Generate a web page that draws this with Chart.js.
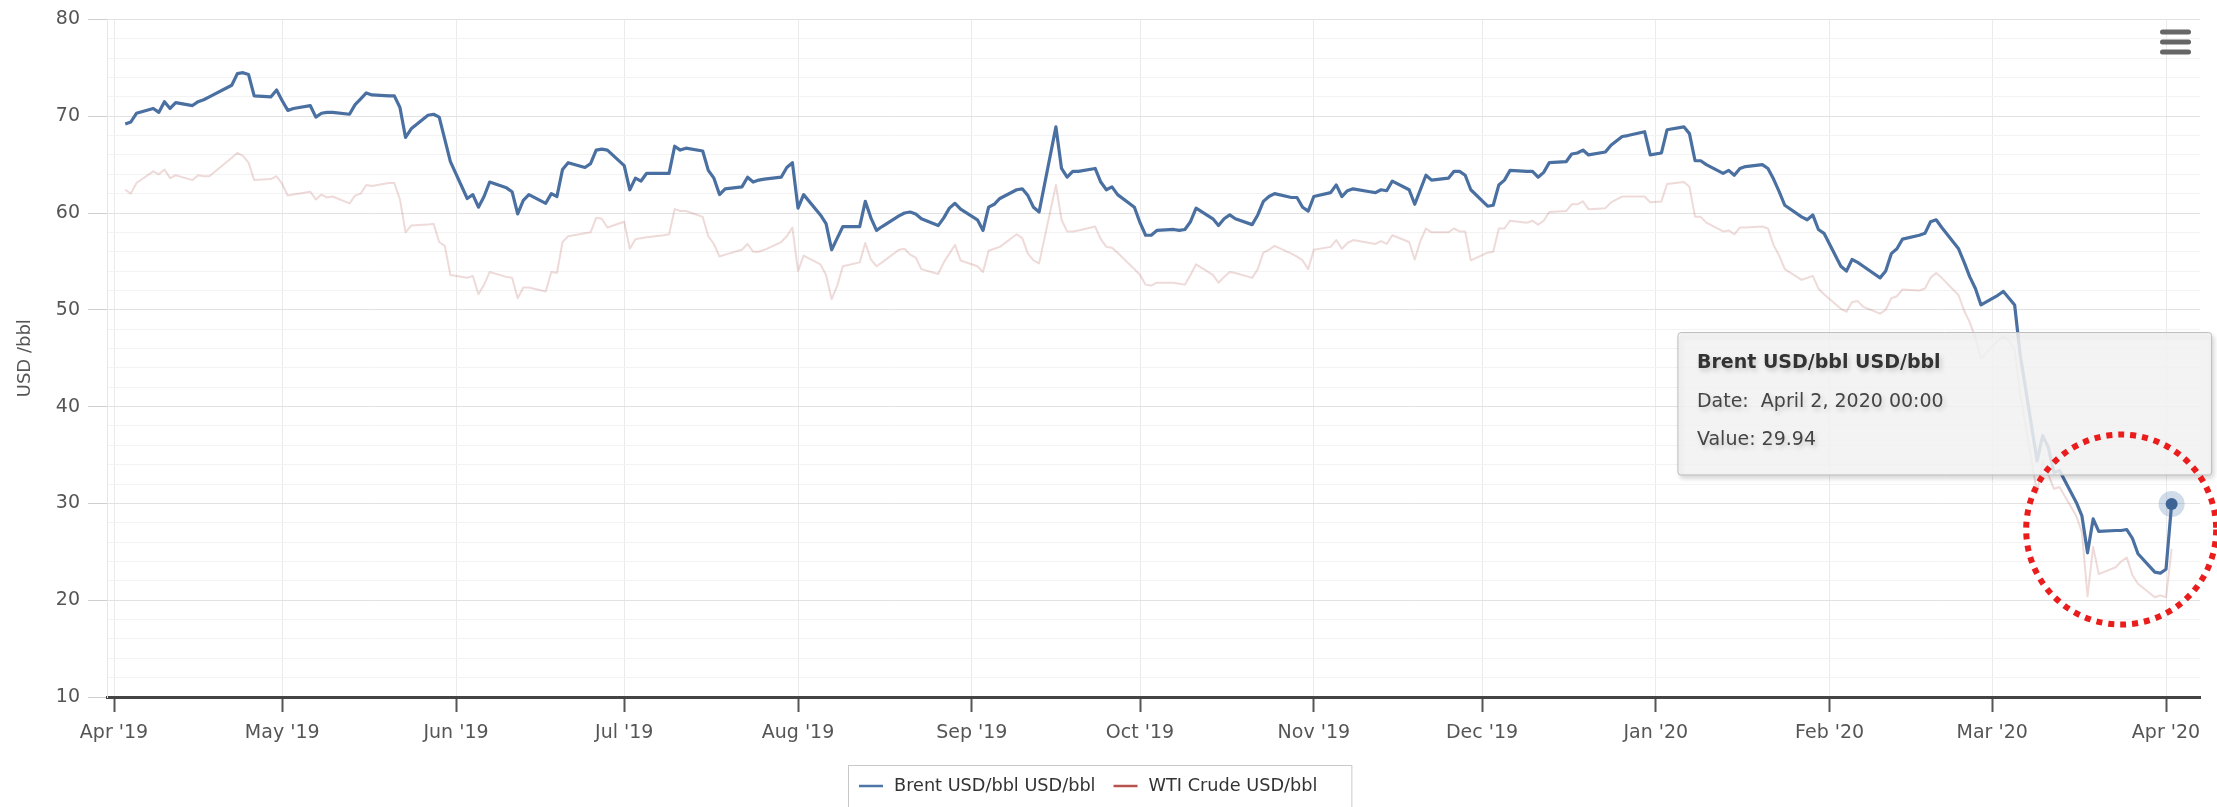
<!DOCTYPE html>
<html>
<head>
<meta charset="utf-8">
<title>Brent and WTI crude prices</title>
<script src="https://cdn.jsdelivr.net/npm/chart.js@4.4.1/dist/chart.umd.min.js"></script>
<style>
  html, body { margin: 0; padding: 0; background: #fff; overflow: hidden; }
  #wrap { width: 2217px; height: 807px; }
</style>
</head>
<body>
<div id="wrap"><canvas id="price-chart" width="2217" height="807"></canvas></div>
<script>
// Daily closes, April 2019 to April 2020
const tradeDates = [
  '2019-04-03','2019-04-04','2019-04-05','2019-04-08','2019-04-09','2019-04-10','2019-04-11','2019-04-12','2019-04-15','2019-04-16',
  '2019-04-17','2019-04-18','2019-04-22','2019-04-23','2019-04-24','2019-04-25','2019-04-26','2019-04-29','2019-04-30',
  '2019-05-01','2019-05-02','2019-05-03','2019-05-06','2019-05-07','2019-05-08','2019-05-09','2019-05-10','2019-05-13','2019-05-14',
  '2019-05-15','2019-05-16','2019-05-17','2019-05-20','2019-05-21','2019-05-22','2019-05-23','2019-05-24','2019-05-27','2019-05-28',
  '2019-05-29','2019-05-30','2019-05-31',
  '2019-06-03','2019-06-04','2019-06-05','2019-06-06','2019-06-07','2019-06-10','2019-06-11','2019-06-12','2019-06-13','2019-06-14',
  '2019-06-17','2019-06-18','2019-06-19','2019-06-20','2019-06-21','2019-06-24','2019-06-25','2019-06-26','2019-06-27','2019-06-28',
  '2019-07-01','2019-07-02','2019-07-03','2019-07-04','2019-07-05','2019-07-08','2019-07-09','2019-07-10','2019-07-11','2019-07-12',
  '2019-07-15','2019-07-16','2019-07-17','2019-07-18','2019-07-19','2019-07-22','2019-07-23','2019-07-24','2019-07-25','2019-07-26',
  '2019-07-29','2019-07-30','2019-07-31',
  '2019-08-01','2019-08-02','2019-08-05','2019-08-06','2019-08-07','2019-08-08','2019-08-09','2019-08-12','2019-08-13','2019-08-14',
  '2019-08-15','2019-08-16','2019-08-19','2019-08-20','2019-08-21','2019-08-22','2019-08-23','2019-08-26','2019-08-27','2019-08-28',
  '2019-08-29','2019-08-30',
  '2019-09-02','2019-09-03','2019-09-04','2019-09-05','2019-09-06','2019-09-09','2019-09-10','2019-09-11','2019-09-12','2019-09-13',
  '2019-09-16','2019-09-17','2019-09-18','2019-09-19','2019-09-20','2019-09-23','2019-09-24','2019-09-25','2019-09-26','2019-09-27',
  '2019-09-30',
  '2019-10-01','2019-10-02','2019-10-03','2019-10-04','2019-10-07','2019-10-08','2019-10-09','2019-10-10','2019-10-11','2019-10-14',
  '2019-10-15','2019-10-16','2019-10-17','2019-10-18','2019-10-21','2019-10-22','2019-10-23','2019-10-24','2019-10-25','2019-10-28',
  '2019-10-29','2019-10-30','2019-10-31',
  '2019-11-01','2019-11-04','2019-11-05','2019-11-06','2019-11-07','2019-11-08','2019-11-11','2019-11-12','2019-11-13','2019-11-14',
  '2019-11-15','2019-11-18','2019-11-19','2019-11-20','2019-11-21','2019-11-22','2019-11-25','2019-11-26','2019-11-27','2019-11-28',
  '2019-11-29',
  '2019-12-02','2019-12-03','2019-12-04','2019-12-05','2019-12-06','2019-12-09','2019-12-10','2019-12-11','2019-12-12','2019-12-13',
  '2019-12-16','2019-12-17','2019-12-18','2019-12-19','2019-12-20','2019-12-23','2019-12-24','2019-12-26','2019-12-27','2019-12-30',
  '2019-12-31',
  '2020-01-02','2020-01-03','2020-01-06','2020-01-07','2020-01-08','2020-01-09','2020-01-10','2020-01-13','2020-01-14','2020-01-15',
  '2020-01-16','2020-01-17','2020-01-20','2020-01-21','2020-01-22','2020-01-23','2020-01-24','2020-01-27','2020-01-28','2020-01-29',
  '2020-01-30','2020-01-31',
  '2020-02-03','2020-02-04','2020-02-05','2020-02-06','2020-02-07','2020-02-10','2020-02-11','2020-02-12','2020-02-13','2020-02-14',
  '2020-02-17','2020-02-18','2020-02-19','2020-02-20','2020-02-21','2020-02-24','2020-02-25','2020-02-26','2020-02-27','2020-02-28',
  '2020-03-02','2020-03-03','2020-03-04','2020-03-05','2020-03-06','2020-03-09','2020-03-10','2020-03-11','2020-03-12','2020-03-13',
  '2020-03-16','2020-03-17','2020-03-18','2020-03-19','2020-03-20','2020-03-23','2020-03-24','2020-03-25','2020-03-26','2020-03-27',
  '2020-03-30','2020-03-31',
  '2020-04-01','2020-04-02'
];

const brentUsd = [
  69.2,69.4,70.3,70.8,70.4,71.5,70.8,71.4,71.1,71.5,71.7,72.0,73.2,74.4,74.5,74.3,72.1,72.0,72.7,
  71.6,70.6,70.8,71.1,69.9,70.3,70.4,70.4,70.2,71.2,71.8,72.4,72.2,72.1,72.1,70.9,67.8,68.7,70.1,70.2,69.9,67.6,65.3,
  61.5,61.9,60.6,61.7,63.2,62.6,62.2,59.9,61.3,61.9,61.0,62.0,61.7,64.5,65.2,64.7,65.1,66.5,66.6,66.5,
  64.9,62.4,63.6,63.3,64.1,64.1,64.1,66.9,66.5,66.7,66.4,64.4,63.6,61.9,62.5,62.7,63.7,63.2,63.4,63.5,63.7,64.7,65.2,
  60.5,61.9,59.8,58.9,56.2,57.4,58.6,58.6,61.2,59.5,58.2,58.6,59.7,60.0,60.1,59.9,59.4,58.7,59.5,60.5,61.0,60.4,
  59.3,58.2,60.6,60.9,61.5,62.4,62.5,61.8,60.6,60.1,68.9,64.6,63.7,64.3,64.3,64.6,63.2,62.4,62.7,61.9,60.6,
  59.0,57.7,57.7,58.2,58.3,58.2,58.3,59.1,60.5,59.4,58.7,59.4,59.8,59.4,58.8,59.8,61.2,61.7,62.0,61.6,61.6,60.6,60.2,
  61.7,62.1,62.9,61.7,62.3,62.5,62.2,62.1,62.4,62.3,63.3,62.4,60.9,62.4,63.9,63.4,63.6,64.3,64.3,63.9,62.4,
  60.7,60.8,62.9,63.4,64.4,64.3,64.3,63.7,64.2,65.2,65.3,66.1,66.2,66.5,66.0,66.3,67.0,67.9,68.0,68.4,66.0,
  66.2,68.6,68.9,68.2,65.4,65.4,65.0,64.1,64.4,63.9,64.6,64.8,65.0,64.6,63.5,62.2,60.8,59.6,59.3,59.8,58.3,57.9,
  54.5,54.0,55.2,54.9,54.5,53.3,54.0,55.8,56.3,57.3,57.7,57.9,59.1,59.3,58.5,56.3,54.9,53.4,52.2,50.5,
  51.5,51.9,51.2,50.5,45.3,34.4,37.0,35.8,33.2,33.4,30.1,28.7,24.9,28.4,27.1,27.2,27.2,27.3,26.4,24.8,22.9,22.8,
  23.2,29.94
];

const wtiUsd = [
  62.4,62.0,63.1,64.3,64.0,64.5,63.6,63.9,63.4,63.9,63.8,63.8,65.7,66.2,65.9,65.2,63.4,63.5,63.8,
  63.0,61.8,61.9,62.2,61.4,61.9,61.6,61.7,61.0,61.8,62.0,62.9,62.8,63.1,63.1,61.4,58.0,58.7,58.8,58.9,57.0,56.6,53.6,
  53.3,53.5,51.6,52.6,53.9,53.4,53.3,51.2,52.3,52.3,51.9,53.9,53.8,57.0,57.6,57.9,58.0,59.5,59.4,58.5,
  59.1,56.3,57.3,57.4,57.5,57.7,57.8,60.4,60.2,60.2,59.6,57.6,56.8,55.5,55.7,56.2,56.8,56.0,56.0,56.2,57.0,57.6,58.5,
  54.0,55.6,54.7,53.6,51.1,52.5,54.5,54.9,56.9,55.2,54.5,54.9,56.2,56.3,55.7,55.4,54.2,53.7,54.9,55.8,56.7,55.1,
  54.5,53.9,56.1,56.3,56.5,57.8,57.4,55.8,55.1,54.8,62.9,59.3,58.1,58.1,58.2,58.6,57.3,56.5,56.4,55.9,54.2,
  53.6,52.6,52.5,52.8,52.8,52.7,52.6,53.6,54.7,53.6,52.8,53.4,53.9,53.8,53.3,54.2,55.9,56.2,56.6,55.8,55.5,55.1,54.2,
  56.2,56.5,57.2,56.3,56.9,57.2,56.9,56.8,57.1,56.8,57.7,57.0,55.2,57.1,58.4,58.0,58.0,58.4,58.1,58.1,55.1,
  55.9,56.0,58.4,58.4,59.2,59.0,59.2,58.8,59.2,60.1,60.2,60.9,60.9,61.2,60.4,60.5,61.1,61.7,61.7,61.7,61.1,
  61.2,63.0,63.2,62.7,59.6,59.6,59.0,58.1,58.2,57.8,58.5,58.5,58.6,58.4,56.7,55.6,54.2,53.1,53.3,53.5,52.2,51.6,
  50.1,49.8,50.8,50.9,50.3,49.6,50.0,51.2,51.4,52.1,52.0,52.2,53.3,53.8,53.3,51.5,49.9,48.7,47.1,45.0,
  46.8,47.2,46.8,45.9,41.3,31.1,34.4,33.0,31.5,31.7,28.7,27.0,20.4,25.5,22.7,23.4,24.0,24.4,22.6,21.7,20.3,20.5,
  20.3,25.3
];

const monthTicks = [
  '2019-04-01','2019-05-01','2019-06-01','2019-07-01','2019-08-01','2019-09-01','2019-10-01',
  '2019-11-01','2019-12-01','2020-01-01','2020-02-01','2020-03-01','2020-04-01'
];

const seriesLabels = ['Brent USD/bbl USD/bbl', 'WTI Crude USD/bbl'];
const yAxisTitle = 'USD /bbl';

const SHORT_MONTHS = ['Jan','Feb','Mar','Apr','May','Jun','Jul','Aug','Sep','Oct','Nov','Dec'];
const LONG_MONTHS = ['January','February','March','April','May','June','July','August','September','October','November','December'];
const FONT = "'DejaVu Sans', Verdana, sans-serif";

function toTime(s) {
    const [y, m, d] = s.split('-').map(Number);
    return Date.UTC(y, m - 1, d);
}

function toPoints(values) {
    return values.map((v, i) => ({ x: toTime(tradeDates[i]), y: v }));
}

function shortLabel(t) {
    const d = new Date(t);
    return SHORT_MONTHS[d.getUTCMonth()] + " '" + String(d.getUTCFullYear()).slice(2);
}

function longDate(t) {
    const d = new Date(t);
    const hh = String(d.getUTCHours()).padStart(2, '0');
    const mm = String(d.getUTCMinutes()).padStart(2, '0');
    return `${LONG_MONTHS[d.getUTCMonth()]} ${d.getUTCDate()}, ${d.getUTCFullYear()} ${hh}:${mm}`;
}

const DAY = 86400000;
const lastIdx = tradeDates.length - 1;

Chart.defaults.font.family = FONT;
Chart.defaults.color = '#555';

// keep the hover box up and to the left of the point
Chart.Tooltip.positioners.pinned = function (items) {
    if (!items.length) return false;
    const el = items[0].element;
    return { x: el.x + 37, y: el.y - 29, xAlign: 'right', yAlign: 'bottom' };
};

// halo, legend box, menu icon and the dotted ring
const decor = {
    id: 'decor',
    beforeDatasetsDraw(chart) {
        const pt = chart.getDatasetMeta(0).data[lastIdx];
        if (!pt) return;
        const ctx = chart.ctx;
        ctx.save();
        ctx.beginPath();
        ctx.arc(pt.x, pt.y, 13, 0, Math.PI * 2);
        ctx.fillStyle = 'rgba(69,114,167,0.25)';
        ctx.fill();
        ctx.restore();
    },
    beforeTooltipDraw(chart) {
        const ctx = chart.ctx;
        ctx.save();
        ctx.shadowColor = 'rgba(0,0,0,0.18)';
        ctx.shadowOffsetX = 2;
        ctx.shadowOffsetY = 3;
        ctx.shadowBlur = 5;
    },
    afterTooltipDraw(chart) {
        chart.ctx.restore();
    },
    afterDraw(chart, args, opts) {
        const ctx = chart.ctx;
        const {x: xs, y: ys} = chart.scales;

        // legend
        ctx.save();
        ctx.font = `17.7px ${FONT}`;
        const items = chart.data.datasets.map((ds, i) => ({
            label: ds.label, color: opts.legendColors[i], w: ctx.measureText(ds.label).width
        }));
        const symW = 24, gap = 11, itemGap = 18, padL = 11, padR = 34;
        let total = padL + padR + itemGap * (items.length - 1);
        items.forEach(it => { total += symW + gap + it.w; });
        const left = 848;
        const top = 765, midY = 786;
        ctx.fillStyle = '#fff';
        ctx.fillRect(left, top, total, 60);
        ctx.strokeStyle = '#c9c9c9';
        ctx.lineWidth = 1;
        ctx.strokeRect(left + 0.5, top + 0.5, total, 60);
        let cx = left + padL;
        ctx.textBaseline = 'middle';
        items.forEach(it => {
            ctx.strokeStyle = it.color;
            ctx.lineWidth = 2.5;
            ctx.beginPath();
            ctx.moveTo(cx, midY);
            ctx.lineTo(cx + symW, midY);
            ctx.stroke();
            ctx.fillStyle = '#333';
            ctx.fillText(it.label, cx + symW + gap, midY);
            cx += symW + gap + it.w + itemGap;
        });
        ctx.restore();

        // export menu icon
        ctx.save();
        ctx.fillStyle = '#666';
        [32, 42, 52].forEach(y => {
            ctx.beginPath();
            ctx.roundRect(2160, y - 2.5, 31, 5, 2.5);
            ctx.fill();
        });
        ctx.restore();

        // dotted ring around the March lows
        const ringX = xs.getPixelForValue(toTime(opts.ring.date));
        const ringY = ys.getPixelForValue(opts.ring.value);
        ctx.save();
        ctx.strokeStyle = '#ea1c1c';
        ctx.lineWidth = 6;
        ctx.setLineDash([6, 6]);
        ctx.beginPath();
        ctx.arc(ringX, ringY, opts.ring.radius, 0, Math.PI * 2);
        ctx.stroke();
        ctx.restore();
    }
};

const ctx = document.getElementById('price-chart').getContext('2d');
const chart = new Chart(ctx, {
    type: 'line',
    data: {
        datasets: [{
            label: seriesLabels[0],
            data: toPoints(brentUsd),
            borderColor: '#4a6fa1',
            borderWidth: 3.2,
            pointRadius: 0,
            pointHoverRadius: 6,
            pointHoverBackgroundColor: '#3d6496',
            pointHoverBorderWidth: 0,
            borderJoinStyle: 'round',
            tension: 0
        }, {
            label: seriesLabels[1],
            data: toPoints(wtiUsd),
            borderColor: 'rgba(170,70,67,0.2)',
            borderWidth: 2,
            pointRadius: 0,
            pointHoverRadius: 0,
            borderJoinStyle: 'round',
            tension: 0
        }]
    },
    options: {
        responsive: false,
        animation: false,
        events: [],
        layout: { padding: { left: 0, right: 17, top: 17, bottom: 0 } },
        scales: {
            x: {
                type: 'linear',
                min: toTime('2019-04-01') - 1.25 * DAY,
                max: toTime('2020-04-01') + 6.06 * DAY,
                afterBuildTicks: scale => { scale.ticks = monthTicks.map(d => ({ value: toTime(d) })); },
                afterFit: scale => { scale.height = 110; },
                grid: { color: '#ebebeb', lineWidth: 1, tickColor: '#555', tickLength: 15, tickWidth: 2 },
                border: { color: '#444', width: 3 },
                ticks: {
                    autoSkip: false, maxRotation: 0, padding: 10,
                    font: { size: 19 }, color: '#555',
                    callback: v => shortLabel(v)
                }
            },
            y: {
                min: 10,
                max: 80,
                afterFit: scale => { scale.width = 107; },
                title: { display: true, text: yAxisTitle, font: { size: 18 }, color: '#555', padding: { top: 15, bottom: 0 } },
                grid: {
                    color: c => (c.tick && c.tick.value % 10 === 0 ? '#e2e2e2' : '#f3f3f3'),
                    tickColor: c => (c.tick && c.tick.value % 10 === 0 ? '#cfcfcf' : 'rgba(0,0,0,0)'),
                    tickLength: 19
                },
                border: { color: '#e6e6e6' },
                ticks: {
                    stepSize: 2, padding: 8, autoSkip: false,
                    font: { size: 19 }, color: '#555',
                    callback: v => (v % 10 === 0 ? v : '')
                }
            }
        },
        plugins: {
            legend: { display: false },
            decor: {
                legendColors: ['#4f76a6', '#b85450'],
                ring: { date: '2020-03-24', value: 27.3, radius: 95 }
            },
            tooltip: {
                position: 'pinned',
                xAlign: 'right',
                yAlign: 'bottom',
                caretSize: 0,
                caretPadding: 0,
                cornerRadius: 3,
                displayColors: false,
                backgroundColor: 'rgba(247,247,247,0.85)',
                borderColor: '#bdbdbd',
                borderWidth: 1,
                padding: { top: 19, bottom: 24, left: 19, right: 268 },
                titleFont: { size: 19, weight: 'bold', lineHeight: 1.2 },
                titleColor: '#333',
                titleMarginBottom: 16,
                bodyFont: { size: 19, lineHeight: 1.2 },
                bodyColor: '#444',
                bodySpacing: 15,
                callbacks: {
                    title: items => items[0].dataset.label,
                    label: item => ['Date:  ' + longDate(item.parsed.x), 'Value: ' + item.parsed.y]
                }
            }
        }
    },
    plugins: [decor]
});

const hovered = [{ datasetIndex: 0, index: lastIdx }];
const hp = chart.getDatasetMeta(0).data[lastIdx];
chart.tooltip.setActiveElements(hovered, { x: hp.x, y: hp.y });
chart.setActiveElements(hovered);
chart.update();
</script>
</body>
</html>
